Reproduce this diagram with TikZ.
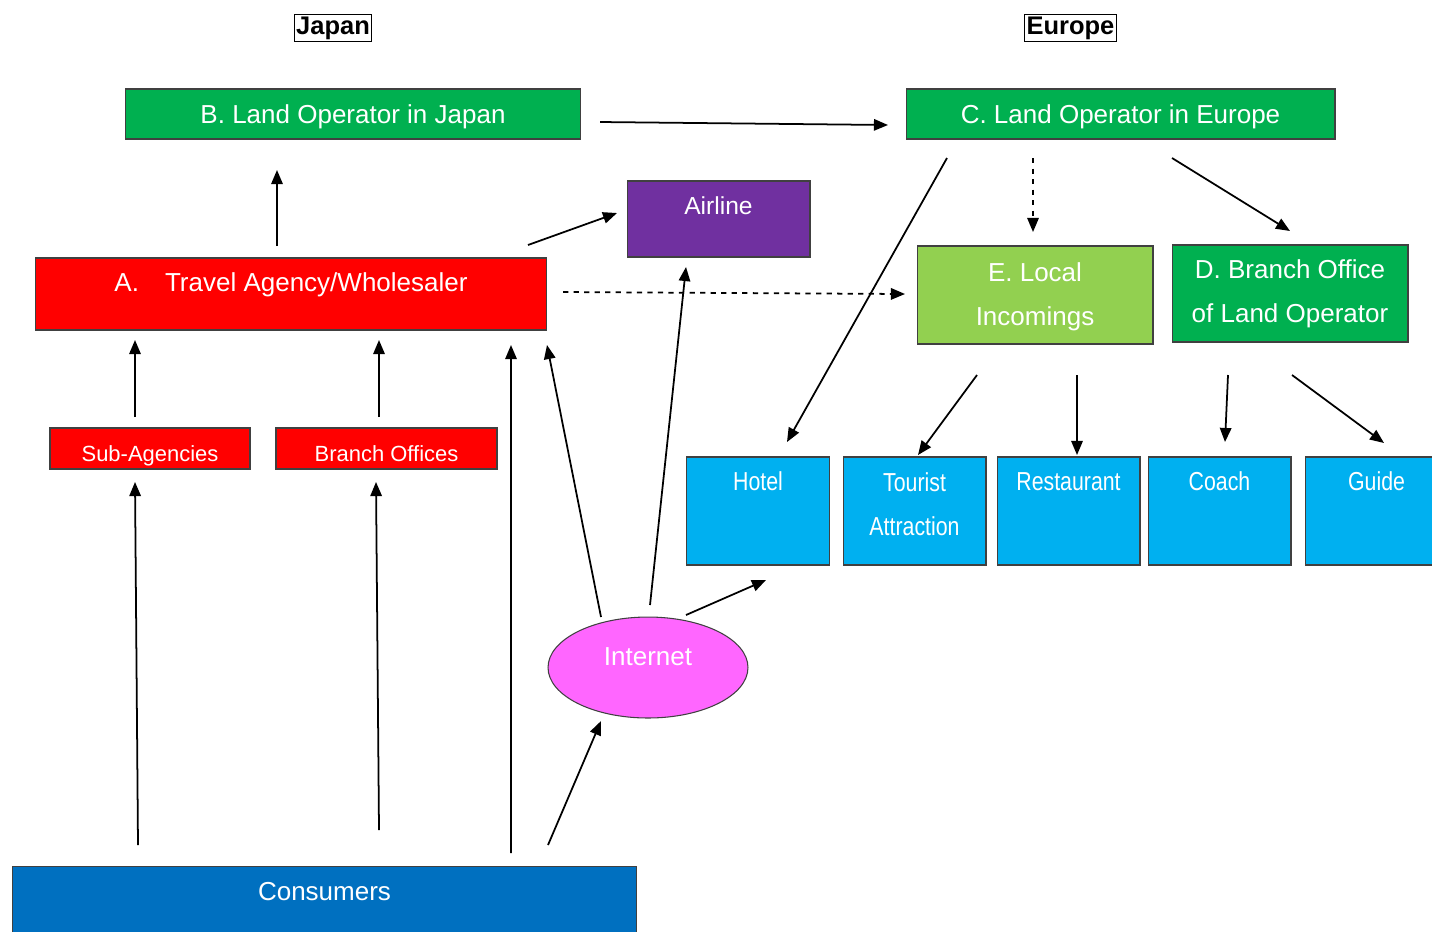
\documentclass[tikz,border=0pt]{standalone}
\usepackage{fontspec}
\setmainfont{Liberation Sans}
\newfontfamily\narrowfont[FakeStretch=0.82]{Liberation Sans}
\usetikzlibrary{arrows.meta,calc,shapes.geometric}
\definecolor{opgreen}{HTML}{00B050}
\definecolor{lgreen}{HTML}{92D050}
\definecolor{agred}{HTML}{FF0000}
\definecolor{airpurple}{HTML}{7030A0}
\definecolor{supblue}{HTML}{00B0F0}
\definecolor{conblue}{HTML}{0070C0}
\definecolor{netpink}{HTML}{FF66FF}

\begin{document}
\begin{tikzpicture}[x=0.02cm, y=-0.02cm,
  every node/.style={font=\fontsize{14.8}{25}\selectfont},
  box/.style={draw=black!75, line width=.6pt, inner sep=0pt},
  lbl/.style={text=white, align=center, inner sep=0pt, text height=1.5ex, text depth=.25ex},
  region/.style={draw, line width=.6pt, inner sep=1pt, font=\fontsize{14.5}{17}\selectfont\bfseries},
  supplier/.style={box, fill=supblue, minimum width=2.86cm, minimum height=2.16cm},
  arr/.style={-{Triangle[length=8pt,width=6.5pt]}, line width=1pt}]
\useasboundingbox (0,0) rectangle (1432,931);

\node[region] (jp) at (333,28) {Japan};
\node[region] (eu) at (1070.5,28) {Europe};

\node[box, fill=opgreen, minimum width=9.12cm, minimum height=1cm] (B) at (353,114) {};
\node[box, fill=opgreen, minimum width=8.58cm, minimum height=1cm] (C) at (1120.5,114) {};
\node[box, fill=airpurple, minimum width=3.66cm, minimum height=1.52cm] (air) at (718.5,219) {};
\node[box, fill=agred, minimum width=10.24cm, minimum height=1.44cm] (A) at (291,294) {};
\node[box, fill=lgreen, minimum width=4.72cm, minimum height=1.96cm] (E) at (1035,295) {};
\node[box, fill=opgreen, minimum width=4.72cm, minimum height=1.94cm] (D) at (1290,293.5) {};
\node[box, fill=agred, minimum width=4cm, minimum height=.82cm] (sub) at (150,448.5) {};
\node[box, fill=agred, minimum width=4.42cm, minimum height=.82cm] (br) at (386.5,448.5) {};
\node[supplier] (hot) at (758,511) {};
\node[supplier] (tou) at (914.5,511) {};
\node[supplier] (res) at (1068.5,511) {};
\node[supplier] (coa) at (1219.5,511) {};
\node[supplier] (gui) at (1376.5,511) {};
\node[box, fill=conblue, minimum width=12.5cm, minimum height=1.6cm] (con) at (324.5,906) {};
\node[ellipse, draw=black!75, line width=.6pt, fill=netpink, minimum width=4cm, minimum height=2.02cm, inner sep=0pt] (net) at (648,667.5) {};

% texts, about 28px below the top edge
\node[lbl] (Bt) at ($(B.north)+(0,29)$) {B. Land Operator in Japan};
\node[lbl] (Ct) at ($(C.north)+(0,29)$) {C. Land Operator in Europe};
\node[lbl, font=\fontsize{14}{25}\selectfont] (airt) at ($(air.north)+(0,28)$) {Airline};
\node[lbl] (At) at ($(A.north)+(0,28)$) {A.\hspace{1em}Travel Agency/Wholesaler};
\node[lbl, text height=, text depth=] (Et) at ($(E.north)+(0,51)$) {E. Local\\Incomings};
\node[lbl, text height=, text depth=] (Dt) at ($(D.north)+(0,49.5)$) {D. Branch Office\\of Land Operator};
\node[lbl, font=\fontsize{12.5}{15}\selectfont] (subt) at ($(sub.north)+(0,28)$) {Sub-Agencies};
\node[lbl, font=\fontsize{12.5}{15}\selectfont] (brt) at ($(br.north)+(0,28)$) {Branch Offices};
\node[lbl, font=\narrowfont\fontsize{14.8}{25}\selectfont] (hott) at ($(hot.north)+(0,28)$) {Hotel};
\node[lbl, font=\narrowfont\fontsize{14.8}{25}\selectfont, text height=, text depth=] (tout) at ($(tou.north)+(0,47.5)$) {Tourist\\Attraction};
\node[lbl, font=\narrowfont\fontsize{14.8}{25}\selectfont] (rest) at ($(res.north)+(0,28)$) {Restaurant};
\node[lbl, font=\narrowfont\fontsize{14.8}{25}\selectfont] (coat) at ($(coa.north)+(0,28)$) {Coach};
\node[lbl, font=\narrowfont\fontsize{14.8}{25}\selectfont] (guit) at ($(gui.north)+(0,28)$) {Guide};
\node[lbl] (cont) at ($(con.north)+(0,29)$) {Consumers};
\node[lbl] (nett) at ($(net)+(0,-8)$) {Internet};

% connectors
\draw[arr] ($(B)+(247,8)$) -- ($(C)+(-232.5,11)$);
\draw[arr] ($(A)+(-14,-48)$) -- ($(B)+(-76,56)$);
\draw[arr] ($(A)+(237,-49)$) -- ($(air)+(-101.5,-6)$);
\draw[arr, dashed] ($(A)+(272,-2)$) -- ($(E)+(-130,-1)$);
\draw[arr, dashed] ($(C)+(-87.5,44)$) -- ($(E)+(-2,-63)$);
\draw[arr] ($(C)+(51.5,44)$) -- ($(D)+(0,-62.5)$);
\draw[arr] ($(C)+(-173.5,44)$) -- ($(hot)+(29,-69)$);
\draw[arr] ($(E)+(-58,80)$) -- ($(tou)+(3.5,-56)$);
\draw[arr] ($(E)+(42,80)$) -- ($(res)+(8.5,-56)$);
\draw[arr] ($(D)+(-62,81.5)$) -- ($(coa)+(5.5,-69)$);
\draw[arr] ($(D)+(2,81.5)$) -- ($(gui)+(7.5,-68)$);
\draw[arr] ($(sub)+(-15,-31.5)$) -- ($(A)+(-156,46)$);
\draw[arr] ($(br)+(-7.5,-31.5)$) -- ($(A)+(88,46)$);
\draw[arr] ($(con)+(-186.5,-61)$) -- ($(sub)+(-15,33.5)$);
\draw[arr] ($(con)+(54.5,-76)$) -- ($(br)+(-10.5,33.5)$);
\draw[arr] ($(con)+(186.5,-53)$) -- ($(A)+(220,51)$);
\draw[arr] ($(con)+(223.5,-61)$) -- ($(net)+(-47,53.5)$);
\draw[arr] ($(net)+(-47,-50.5)$) -- ($(A)+(256,51)$);
\draw[arr] ($(net)+(2,-62.5)$) -- ($(air)+(-32.5,48)$);
\draw[arr] ($(net)+(38,-52.5)$) -- ($(hot)+(8,69)$);
\end{tikzpicture}
\end{document}
